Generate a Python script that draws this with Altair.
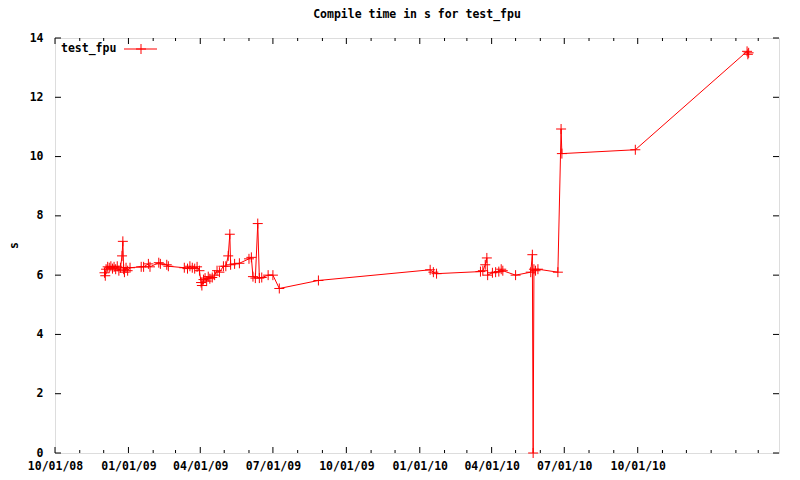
import altair as alt
import pandas as pd

# ---- data ----
dates = [
    "2008-12-02", "2008-12-03", "2008-12-04", "2008-12-06", "2008-12-08", "2008-12-10",
    "2008-12-12", "2008-12-14", "2008-12-16", "2008-12-18", "2008-12-20", "2008-12-22",
    "2008-12-24", "2008-12-25", "2008-12-26", "2008-12-27", "2008-12-29", "2008-12-31",
    "2009-01-03", "2009-01-17", "2009-01-20", "2009-01-26", "2009-01-28", "2009-02-08",
    "2009-02-10", "2009-02-18", "2009-02-20", "2009-03-12", "2009-03-16", "2009-03-19",
    "2009-03-22", "2009-03-25", "2009-03-28", "2009-03-31", "2009-04-02", "2009-04-03",
    "2009-04-05", "2009-04-07", "2009-04-09", "2009-04-11", "2009-04-13", "2009-04-16",
    "2009-04-19", "2009-04-22", "2009-04-25", "2009-04-30", "2009-05-03", "2009-05-06",
    "2009-05-08", "2009-05-09", "2009-05-14", "2009-05-20", "2009-06-01", "2009-06-04",
    "2009-06-06", "2009-06-09", "2009-06-12", "2009-06-14", "2009-06-17", "2009-06-25",
    "2009-07-01", "2009-07-09", "2009-08-27", "2010-01-14", "2010-01-18", "2010-01-22",
    "2010-03-18", "2010-03-21", "2010-03-24", "2010-03-26", "2010-03-27", "2010-04-02",
    "2010-04-06", "2010-04-10", "2010-04-13", "2010-04-15", "2010-05-01", "2010-05-20",
    "2010-05-22", "2010-05-23", "2010-05-24", "2010-05-26", "2010-05-29", "2010-06-23",
    "2010-06-27", "2010-06-28", "2010-09-28", "2011-02-15", "2011-02-16", "2011-02-17",
]
values = [
    6.08, 5.98, 6.20, 6.28, 6.25, 6.30,
    6.22, 6.28, 6.20, 6.30, 6.15, 6.25,
    6.65, 7.14, 6.20, 6.10, 6.25, 6.15,
    6.25, 6.28, 6.28, 6.38, 6.28, 6.42,
    6.38, 6.35, 6.30, 6.25, 6.22, 6.30,
    6.25, 6.22, 6.28, 6.15, 5.75, 5.65,
    5.85, 5.90, 5.80, 5.95, 5.88, 5.92,
    6.00, 6.15, 6.10, 6.30, 6.30, 6.65,
    7.38, 6.35, 6.38, 6.40, 6.55, 6.60,
    5.95, 5.90, 7.74, 5.90, 5.92, 6.00,
    6.00, 5.55, 5.82, 6.18, 6.10, 6.05,
    6.12, 6.15, 6.35, 6.58, 6.00, 6.08,
    6.10, 6.12, 6.20, 6.15, 6.00, 6.10,
    6.69, 0.00, 6.20, 6.15, 6.20, 6.10,
    10.93, 10.10, 10.23, 13.55, 13.45, 13.50,
]
series_name = ["test_fpu"]
major_x = ["2008-10-01", "2009-01-01", "2009-04-01", "2009-07-01", "2009-10-01",
           "2010-01-01", "2010-04-01", "2010-07-01", "2010-10-01"]
minor_x = ["2008-11-01", "2008-12-01", "2009-02-01", "2009-03-01", "2009-05-01",
           "2009-06-01", "2009-08-01", "2009-09-01", "2009-11-01", "2009-12-01",
           "2010-02-01", "2010-03-01", "2010-05-01", "2010-06-01", "2010-08-01",
           "2010-09-01", "2010-11-01", "2010-12-01", "2011-01-01", "2011-02-01",
           "2011-03-01"]
y_ticks = [0, 2, 4, 6, 8, 10, 12, 14]

W, H = 724, 415
FONT = "DejaVu Sans Mono"
FS = 11.5
RED = "#ff0000"

def loc(d):
    return d + "T00:00:00"

df = pd.DataFrame({"date": [loc(d) for d in dates], "value": values})
xscale = alt.Scale(domain=[alt.DateTime(year=2008, month=10, date=1),
                           alt.DateTime(year=2011, month=3, date=27)])
yscale = alt.Scale(domain=[0, 14], nice=False)

x_axis = alt.Axis(
    values=[alt.DateTime(year=int(d[:4]), month=int(d[5:7]), date=1) for d in major_x],
    format="%m/%d/%y", ticks=False, domain=False, grid=False,
    labelFont=FONT, labelFontSize=FS, labelFontWeight="bold", labelColor="black",
    labelPadding=7, labelOverlap=False, labelFlush=False, title=None,
)
y_axis = alt.Axis(
    values=y_ticks, ticks=False, domain=False, grid=False,
    labelFont=FONT, labelFontSize=FS, labelFontWeight="bold", labelColor="black",
    labelPadding=12, title="s", titleAngle=270, titleFont=FONT, titleFontSize=FS,
    titleFontWeight="bold", titleColor="black", titleX=-41, titleY=207,
    titleAlign="center", titleBaseline="middle",
)

base = alt.Chart(df)
line = base.mark_line(color=RED, strokeWidth=1).encode(
    x=alt.X("date:T", scale=xscale, axis=x_axis),
    y=alt.Y("value:Q", scale=yscale, axis=y_axis),
)
PLUS = "M-1,0L1,0M0,-1L0,1"
pts = base.mark_point(shape=PLUS, filled=False, color=RED, strokeWidth=1,
                      size=100, opacity=1).encode(
    x=alt.X("date:T", scale=xscale),
    y=alt.Y("value:Q", scale=yscale),
)

# inward ticks (gnuplot style), positions from the axis scales
maj = pd.DataFrame({"d": [loc(d) for d in major_x]})
mnr = pd.DataFrame({"d": [loc(d) for d in minor_x]})
yt = pd.DataFrame({"v": y_ticks})
tick_style = dict(color="black", strokeWidth=1)
xt_major_b = alt.Chart(maj).mark_rule(**tick_style).encode(
    x=alt.X("d:T", scale=xscale), y=alt.value(H), y2=alt.value(H - 6))
xt_major_t = alt.Chart(maj).mark_rule(**tick_style).encode(
    x=alt.X("d:T", scale=xscale), y=alt.value(0), y2=alt.value(6))
xt_minor_b = alt.Chart(mnr).mark_rule(**tick_style).encode(
    x=alt.X("d:T", scale=xscale), y=alt.value(H), y2=alt.value(H - 3))
xt_minor_t = alt.Chart(mnr).mark_rule(**tick_style).encode(
    x=alt.X("d:T", scale=xscale), y=alt.value(0), y2=alt.value(3))
yt_l = alt.Chart(yt).mark_rule(**tick_style).encode(
    y=alt.Y("v:Q", scale=yscale), x=alt.value(0), x2=alt.value(6))
yt_r = alt.Chart(yt).mark_rule(**tick_style).encode(
    y=alt.Y("v:Q", scale=yscale), x=alt.value(W), x2=alt.value(W - 6))

# key (legend) in the top-left corner
key_df = pd.DataFrame({"label": series_name})
key_text = alt.Chart(key_df).mark_text(
    font=FONT, fontSize=FS, fontWeight="bold", color="black",
    align="left", baseline="middle").encode(
    text="label:N", x=alt.value(6), y=alt.value(11))
key_line = alt.Chart(key_df).mark_rule(color=RED, strokeWidth=1).encode(
    x=alt.value(69), x2=alt.value(102), y=alt.value(11))
key_pt = alt.Chart(key_df).mark_point(shape=PLUS, filled=False, color=RED,
                                      strokeWidth=1, size=100, opacity=1).encode(
    x=alt.value(86), y=alt.value(11))

chart = alt.layer(
    line, pts, xt_major_b, xt_major_t, xt_minor_b, xt_minor_t, yt_l, yt_r,
    key_text, key_line, key_pt,
).properties(
    width=W, height=H,
    title=alt.TitleParams("Compile time in s for test_fpu", font=FONT, fontSize=FS,
                          fontWeight="bold", color="black", anchor="middle", offset=12),
    autosize=alt.AutoSizeParams(type="none"),
    padding={"left": 47, "top": 30, "right": 13, "bottom": 19},
).configure_view(stroke="black", strokeWidth=1).configure(background="white")

chart.save("out.html", embed_options={"renderer": "svg", "actions": False})
